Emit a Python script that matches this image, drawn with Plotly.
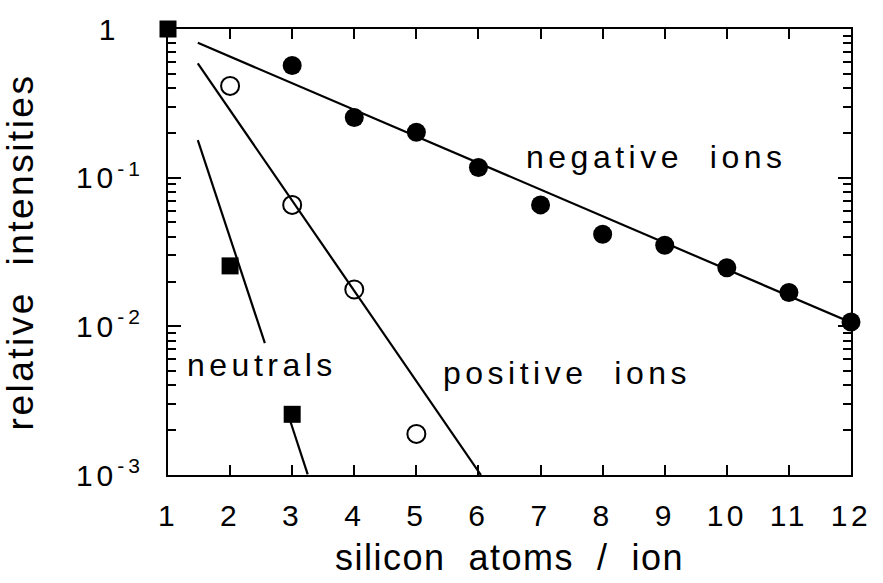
import plotly.graph_objects as go

# Measured relative intensities vs. cluster size
neg_x = [3, 4, 5, 6, 7, 8, 9, 10, 11, 12]
neg_y = [0.569, 0.254, 0.202, 0.117, 0.0656, 0.0416, 0.0351, 0.0248, 0.0169, 0.0107]

pos_x = [2, 3, 4, 5]
pos_y = [0.414, 0.0656, 0.0177, 0.00189]

neu_x = [1, 2, 3]
neu_y = [1.0, 0.0255, 0.00256]

# Exponential fits (straight lines on the log scale)
neg_fit_x = [1.48, 12]
neg_fit_y = [0.808, 0.0106]
pos_fit_x = [1.48, 6.04]
pos_fit_y = [0.587, 0.001]
neu_fit_x = [1.48, 2.56, None, 2.97, 3.25]
neu_fit_y = [0.179, 0.0077, None, 0.0023, 0.00101]

x_ticks = list(range(1, 13))
y_ticks = [1e-3, 1e-2, 1e-1, 1]
y_tick_text = ["10<sup>-3</sup>", "10<sup>-2</sup>", "10<sup>-1</sup>", "1\u00a0\u00a0"]
y_minor = [m * 10.0 ** k for k in (-3, -2, -1) for m in range(2, 10)]

FONT = "Liberation Sans, Arial, Helvetica, sans-serif"


def spaced(text, px):
    return f'<span style="letter-spacing:{px}px">{text}</span>'


fig = go.Figure()

line_style = dict(color="black", width=2.2)
fig.add_trace(go.Scatter(x=neg_fit_x, y=neg_fit_y, mode="lines", line=line_style,
                         hoverinfo="skip", cliponaxis=False))
fig.add_trace(go.Scatter(x=pos_fit_x, y=pos_fit_y, mode="lines", line=line_style,
                         hoverinfo="skip", cliponaxis=False))
fig.add_trace(go.Scatter(x=neu_fit_x, y=neu_fit_y, mode="lines", line=line_style,
                         connectgaps=False, hoverinfo="skip", cliponaxis=False))

fig.add_trace(go.Scatter(x=neg_x, y=neg_y, mode="markers", name="negative ions",
                         marker=dict(symbol="circle", size=19, color="black"),
                         cliponaxis=False))
fig.add_trace(go.Scatter(x=pos_x, y=pos_y, mode="markers", name="positive ions",
                         marker=dict(symbol="circle-open", size=18, color="black",
                                     line=dict(width=2, color="black")),
                         cliponaxis=False))
fig.add_trace(go.Scatter(x=neu_x, y=neu_y, mode="markers", name="neutrals",
                         marker=dict(symbol="square", size=17, color="black"),
                         cliponaxis=False))

label_font = dict(family=FONT, size=32, color="black")
labels = [
    ("negative\u00a0\u00a0ions", 6.73, -0.859),
    ("neutrals", 1.273, -2.260),
    ("positive\u00a0\u00a0ions", 5.398, -2.313),
]
for txt, lx, ly in labels:
    fig.add_annotation(text=spaced(txt, 4.5), x=lx, y=ly, xref="x", yref="y",
                       xanchor="left", yanchor="middle", showarrow=False,
                       font=label_font)

fig.update_layout(
    width=883, height=583,
    margin=dict(l=168, r=30, t=24, b=105),
    paper_bgcolor="white", plot_bgcolor="white",
    showlegend=False,
    font=dict(family=FONT, color="black"),
)

fig.update_xaxes(
    range=[1, 12], tickmode="array", tickvals=x_ticks,
    ticktext=[spaced(str(v), 3.5) for v in x_ticks],
    ticks="inside", ticklen=10, tickwidth=2, tickcolor="black",
    showline=True, linewidth=2, linecolor="black", mirror="allticks",
    showgrid=False, zeroline=False,
    tickfont=dict(family=FONT, size=30, color="black"),
    ticklabelstandoff=13,
    title=dict(text=spaced("silicon\u00a0\u00a0atoms\u00a0\u00a0/\u00a0\u00a0ion", 1.5),
               font=dict(family=FONT, size=36, color="black"), standoff=14),
)

fig.update_yaxes(
    type="log", range=[-3, 0], tickmode="array", tickvals=y_ticks,
    ticktext=[spaced(t, 4) for t in y_tick_text],
    ticks="inside", ticklen=13, tickwidth=2, tickcolor="black",
    minor=dict(tickmode="array", tickvals=y_minor, ticks="inside", ticklen=8,
               tickwidth=1.5, tickcolor="black", showgrid=False),
    showline=True, linewidth=2, linecolor="black", mirror="allticks",
    showgrid=False, zeroline=False,
    tickfont=dict(family=FONT, size=30, color="black"),
    ticklabelstandoff=16,
    title=dict(text=spaced("relative\u00a0\u00a0intensities", 2.5),
               font=dict(family=FONT, size=37, color="black"), standoff=32),
)

fig.write_html("out.html")
